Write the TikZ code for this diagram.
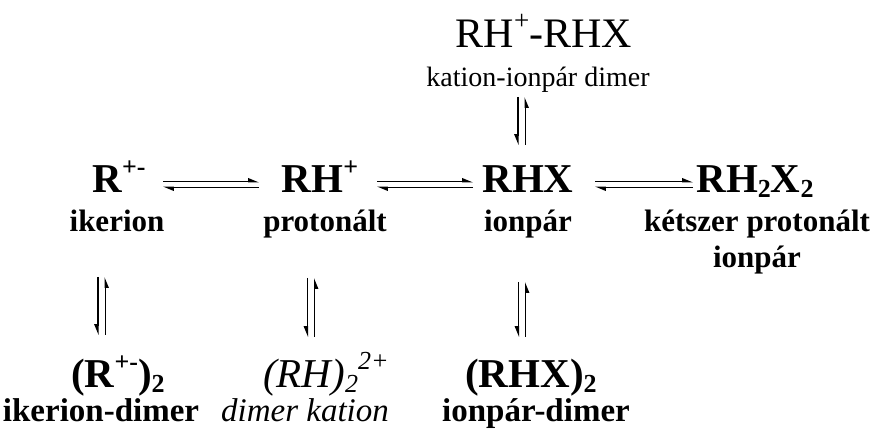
\documentclass[tikz,border=0pt]{standalone}
\usepackage{fontspec}
\setmainfont{Liberation Serif}
\usetikzlibrary{arrows.meta}

% raised / lowered indices for the large formulas
\newcommand\hi[1]{\raisebox{17.5pt}{\fontsize{26}{26}\selectfont #1}}
\newcommand\lo[1]{\raisebox{-5pt}{\fontsize{26}{26}\selectfont #1}}

\tikzset{
  formula/.style={font=\fontsize{41}{41}\selectfont\bfseries, anchor=base, inner sep=0pt},
  formulait/.style={font=\fontsize{41}{41}\selectfont\itshape, anchor=base, inner sep=0pt},
  formulart/.style={font=\fontsize{42}{42}\selectfont, anchor=base, inner sep=0pt},
  lab/.style={font=\fontsize{31}{31}\selectfont\bfseries, anchor=base, inner sep=0pt},
  labB/.style={font=\fontsize{33}{33}\selectfont\bfseries, anchor=base, inner sep=0pt},
  labit/.style={font=\fontsize{33}{33}\selectfont\itshape, anchor=base, inner sep=0pt},
  labrm/.style={font=\fontsize{28}{28}\selectfont, anchor=base, inner sep=0pt},
  harpH/.style={line width=1.4pt, -{Triangle[left,length=9pt,width=7pt]}},
  harpV/.style={line width=1.4pt, -{Triangle[right,length=9pt,width=7pt]}},
}

% equilibrium arrow between two named coordinates, horizontal or vertical
\newcommand\eqH[2]{%
  \draw[harpH] ([yshift=2.8pt]#1) -- ([yshift=2.8pt]#2);
  \draw[harpH] ([yshift=-2.8pt]#2) -- ([yshift=-2.8pt]#1);}
\newcommand\eqV[2]{% #1 bottom, #2 top
  \draw[harpV] ([xshift=3.7pt]#1) -- ([xshift=3.7pt]#2);
  \draw[harpV] ([xshift=-3.7pt]#2) -- ([xshift=-3.7pt]#1);}

\begin{document}
\begin{tikzpicture}[x=1pt, y={(0pt,-1pt)}]
\useasboundingbox (0,0) rectangle (884,430);

% top: cation / ion-pair dimer
\node[formulart] (top) at (544,48) {RH\raisebox{18pt}{\fontsize{27}{27}\selectfont +}-RHX};
\node[labrm] (toplab) at (538,87) {kation-ionpár dimer};

% middle row
\node[formula] (R) at (119,193) {R\hi{+-}};
\node[lab] (Rlab) at (117,232) {ikerion};
\node[formula] (RH) at (320,193) {RH\hi{+}};
\node[lab] (RHlab) at (325,232) {protonált};
\node[formula] (RHX) at (528,193) {RHX};
\node[lab] (RHXlab) at (528,232) {ionpár};
\node[formula] (RH2X2) at (755,193) {RH\lo{2}X\lo{2}};
\node[lab] (RH2X2lab) at (757,232) {kétszer protonált};
\node[lab] (RH2X2lab2) at (757,268) {ionpár};

% bottom row
\node[formula] (Rd) at (118,388) {(R\hi{+-})\lo{2}};
\node[labB] (Rdlab) at (101,421) {ikerion-dimer};
\node[formulait] (RHd) at (326,388) {(RH)\lo{2}\raisebox{18pt}{\fontsize{26}{26}\selectfont 2+}};
\node[labit] (RHdlab) at (305,421) {dimer kation};
\node[formula] (RHXd) at (531,388) {(RHX)\lo{2}};
\node[labB] (RHXdlab) at (536,421) {ionpár-dimer};

% arrow end points
\coordinate (h1a) at (163,184.5); \coordinate (h1b) at (259,184.5);
\coordinate (h2a) at (377,184.5); \coordinate (h2b) at (473,184.5);
\coordinate (h3a) at (595,184.5); \coordinate (h3b) at (693,184.5);
\coordinate (vta) at (521.5,145); \coordinate (vtb) at (521.5,97);
\coordinate (v1a) at (101.5,335); \coordinate (v1b) at (101.5,277);
\coordinate (v2a) at (311,337);   \coordinate (v2b) at (311,278);
\coordinate (v3a) at (522,337);   \coordinate (v3b) at (522,282);

% equilibria
\eqH{h1a}{h1b}
\eqH{h2a}{h2b}
\eqH{h3a}{h3b}
\eqV{vta}{vtb}
\eqV{v1a}{v1b}
\eqV{v2a}{v2b}
\eqV{v3a}{v3b}
\end{tikzpicture}
\end{document}
